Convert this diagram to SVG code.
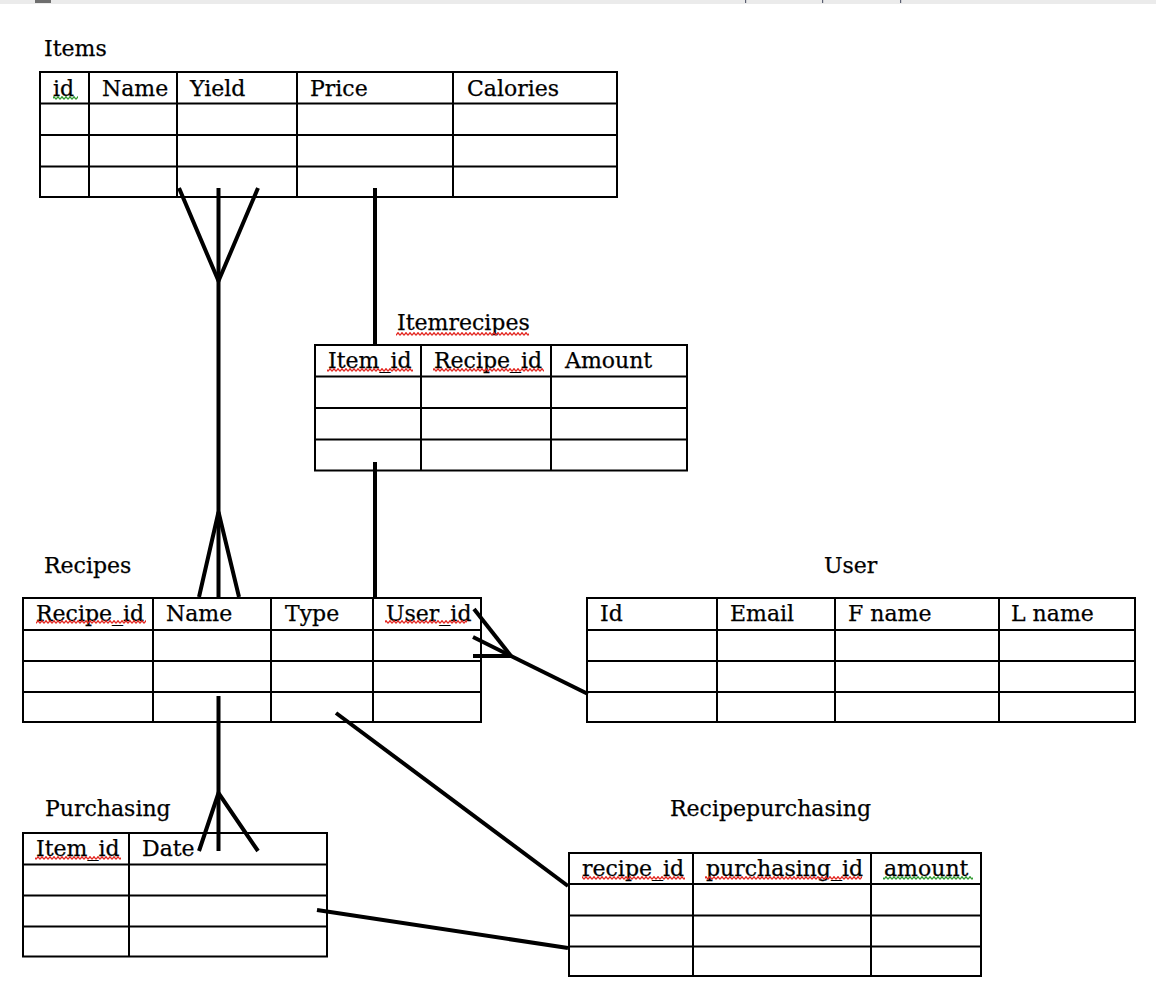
<svg xmlns="http://www.w3.org/2000/svg" width="1156" height="988" viewBox="0 0 1156 988">
<style>
  .t { font-family: "DejaVu Serif", "Liberation Serif", serif; font-size: 22px; fill: #000; stroke: #000; stroke-width: 0.25; }
  .grid { fill: none; stroke: #000; stroke-width: 2; }
  .conn line, .conn polyline { stroke: #000; stroke-width: 4; fill: none; stroke-linecap: butt; }
  .sqr { fill: url(#wr); }
  .sqg { fill: url(#wg); }
</style>
<defs>
  <pattern id="wr" width="4" height="4" patternUnits="userSpaceOnUse">
    <path d="M0,3.3 L2,0.7 L4,3.3" fill="none" stroke="#e3241e" stroke-width="1.3"/>
  </pattern>
  <pattern id="wg" width="4" height="4" patternUnits="userSpaceOnUse">
    <path d="M0,3.3 L2,0.7 L4,3.3" fill="none" stroke="#2f9a2f" stroke-width="1.3"/>
  </pattern>
  <filter id="soft" x="-5%" y="-5%" width="110%" height="110%">
    <feGaussianBlur stdDeviation="0.5"/>
  </filter>
</defs>
<rect x="0" y="0" width="1156" height="988" fill="#fff"/>
<rect x="0" y="0" width="1156" height="4" fill="#ebebeb"/>
<rect x="35" y="0" width="16" height="3" fill="#6e6e6e"/>
<rect x="745" y="0" width="1.2" height="3" fill="#5a5e70"/>
<rect x="822" y="0" width="1.2" height="3" fill="#5a5e70"/>
<rect x="900" y="0" width="1.2" height="3" fill="#5a5e70"/>

<g id="items">
  <text class="t" x="44" y="56">Items</text>
  <rect class="grid" x="40" y="72" width="577" height="125"/>
  <path class="grid" d="M40,103.5H617M40,135H617M40,166.5H617M89,72V197M177,72V197M297,72V197M453,72V197"/>
  <text class="t" x="53" y="96">id</text>
  <text class="t" x="102" y="96">Name</text>
  <text class="t" x="190" y="96">Yield</text>
  <text class="t" x="310" y="96">Price</text>
  <text class="t" x="467" y="96">Calories</text>
  <rect class="sqg" x="53" y="96" width="25" height="4"/>
</g>

<g id="itemrecipes">
  <text class="t" x="397" y="330">Itemrecipes</text>
  <rect class="sqr" x="396" y="332" width="133" height="4"/>
  <rect class="grid" x="315" y="345" width="372" height="125.5"/>
  <path class="grid" d="M315,376.5H687M315,408H687M315,439.5H687M421,345V470.5M551,345V470.5"/>
  <text class="t" x="328" y="368">Item_id</text>
  <text class="t" x="434" y="368">Recipe_id</text>
  <text class="t" x="565" y="368">Amount</text>
  <rect class="sqr" x="327" y="368" width="86" height="4"/>
  <rect class="sqr" x="433" y="368" width="111" height="4"/>
</g>

<g id="recipes">
  <text class="t" x="44" y="573">Recipes</text>
  <rect class="grid" x="23" y="598" width="458" height="124"/>
  <path class="grid" d="M23,630H481M23,661H481M23,692H481M153,598V722M271,598V722M373,598V722"/>
  <text class="t" x="36" y="621">Recipe_id</text>
  <text class="t" x="166" y="621">Name</text>
  <text class="t" x="285" y="621">Type</text>
  <text class="t" x="386" y="621">User_id</text>
  <rect class="sqr" x="36" y="620" width="110" height="4"/>
  <rect class="sqr" x="385" y="620" width="82" height="4"/>
</g>

<g id="user">
  <text class="t" x="824" y="573">User</text>
  <rect class="grid" x="587" y="598" width="548" height="124"/>
  <path class="grid" d="M587,630H1135M587,661H1135M587,692H1135M717,598V722M835,598V722M999,598V722"/>
  <text class="t" x="600" y="621">Id</text>
  <text class="t" x="730" y="621">Email</text>
  <text class="t" x="848" y="621">F name</text>
  <text class="t" x="1011" y="621">L name</text>
</g>

<g id="purchasing">
  <text class="t" x="45" y="816">Purchasing</text>
  <rect class="grid" x="23" y="833" width="304" height="123.5"/>
  <path class="grid" d="M23,864.5H327M23,895.5H327M23,926.5H327M129,833V956.5"/>
  <text class="t" x="36" y="856">Item_id</text>
  <text class="t" x="142" y="856">Date</text>
  <rect class="sqr" x="35" y="856" width="86" height="4"/>
</g>

<g id="recipepurchasing">
  <text class="t" x="670" y="816">Recipepurchasing</text>
  <rect class="grid" x="569" y="853" width="412" height="123"/>
  <path class="grid" d="M569,884H981M569,915.5H981M569,946.5H981M693,853V976M871,853V976"/>
  <text class="t" x="582" y="876">recipe_id</text>
  <text class="t" x="706" y="876">purchasing_id</text>
  <text class="t" x="884" y="876">amount</text>
  <rect class="sqr" x="582" y="876" width="103" height="4"/>
  <rect class="sqr" x="705" y="876" width="157" height="4"/>
  <rect class="sqg" x="883" y="876" width="90" height="4"/>
</g>

<g id="connectors" class="conn" filter="url(#soft)">
  <line x1="218.5" y1="188" x2="218.5" y2="597"/>
  <polyline points="179,188 218.5,281 258,188"/>
  <polyline points="199,597 218.5,512 239,597"/>
  <line x1="375" y1="188" x2="375" y2="344"/>
  <line x1="375" y1="462" x2="375" y2="597"/>
  <line x1="474" y1="609" x2="511" y2="656"/>
  <line x1="473" y1="637" x2="511" y2="656"/>
  <line x1="473" y1="656" x2="511" y2="656"/>
  <line x1="509" y1="655" x2="588" y2="694"/>
  <line x1="218.5" y1="696" x2="218.5" y2="851"/>
  <polyline points="199,851 218.5,793 258,851"/>
  <line x1="336" y1="713" x2="568" y2="886"/>
  <line x1="317" y1="910" x2="568" y2="948"/>
</g>
</svg>
